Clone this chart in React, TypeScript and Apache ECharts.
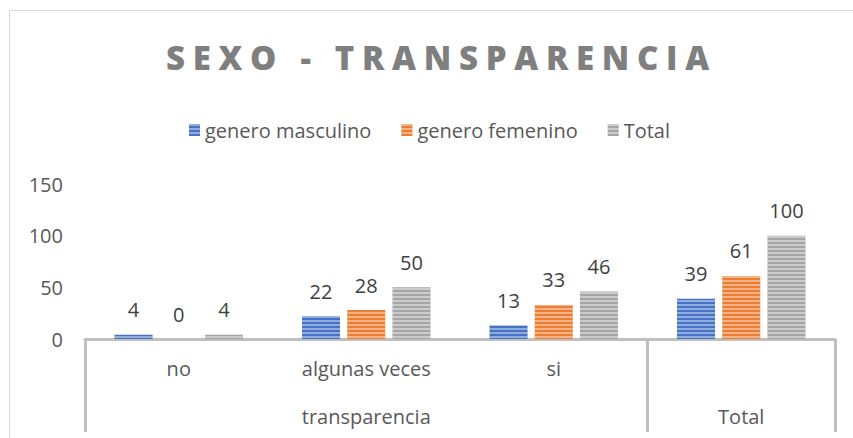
import React, { useEffect, useRef } from "react";
import * as echarts from "echarts";

const TITLE = "SEXO - TRANSPARENCIA";
const categories = ["no", "algunas veces", "si", "Total"];
const subLabels = ["no", "algunas veces", "si", ""];
const groupLabels = ["", "transparencia", "", "Total"];
const seriesNames = ["genero masculino", "genero femenino", "Total"];
const masculino = [4, 22, 13, 39];
const femenino = [0, 28, 33, 61];
const total = [4, 50, 46, 100];
const colors = ["#4472c4", "#ed7d31", "#a5a5a5"];

const FONT = "'Open Sans', sans-serif";

export default function App() {
  const ref = useRef<HTMLDivElement>(null);
  useEffect(() => {
    if (!ref.current) return;
    const chart = echarts.init(ref.current, null, { renderer: "svg" });
    const decal = {
      symbol: "rect",
      symbolSize: 1,
      color: "rgba(255,255,255,0.42)",
      dashArrayX: [1, 0],
      dashArrayY: [2, 2],
      rotation: 0,
    };
    const mk = (name: string, data: number[], color: string) => ({
      name,
      type: "bar",
      data,
      barWidth: 38,
      barGap: "19%",
      itemStyle: { color, decal },
      label: {
        show: true,
        position: "top",
        distance: 15,
        color: "#404040",
        fontSize: 20,
        fontFamily: FONT,
      },
    });
    const option: any = {
      animation: false,
      title: {
        text: TITLE,
        left: 161,
        top: 36,
        textStyle: {
          fontFamily: FONT,
          fontWeight: 800,
          fontSize: 33,
          color: "#7f7f7f",
        },
      },
      legend: {
        left: 189,
        top: 120,
        padding: 0,
        itemWidth: 11,
        itemHeight: 12,
        itemGap: 30,
        icon: "rect",
        data: seriesNames,
        textStyle: { fontSize: 20, color: "#595959", fontFamily: FONT },
      },
      grid: { left: 85, right: 18, top: 184, bottom: 99, containLabel: false },
      xAxis: [
        {
          type: "category",
          data: categories,
          position: "bottom",
          axisLine: { show: true, lineStyle: { color: "#c0c0c0", width: 3 } },
          axisTick: { show: false },
          axisLabel: {
            interval: 0,
            margin: 19,
            fontSize: 20,
            color: "#595959",
            fontFamily: FONT,
            formatter: (_v: string, i: number) => subLabels[i],
          },
        },
        {
          type: "category",
          data: groupLabels,
          position: "bottom",
          offset: 0,
          axisLine: { show: false },
          axisTick: {
            show: true,
            length: 93,
            interval: (i: number) => i === 0 || i === 3,
            lineStyle: { color: "#c0c0c0", width: 3 },
          },
          axisLabel: {
            interval: 0,
            margin: 67,
            fontSize: 20,
            color: "#595959",
            fontFamily: FONT,
          },
        },
      ],
      yAxis: {
        type: "value",
        min: 0,
        max: 150,
        interval: 50,
        axisLine: { show: false },
        axisTick: { show: false },
        splitLine: { show: false },
        axisLabel: {
          margin: 22,
          fontSize: 20,
          color: "#595959",
          fontFamily: FONT,
        },
      },
      graphic: [
        {
          type: "rect",
          shape: { x: 9.5, y: 10.5, width: 900, height: 500 },
          style: { fill: "none", stroke: "#d9d9d9", lineWidth: 1 },
          silent: true,
          z: -10,
        },
      ],
      series: [
        mk(seriesNames[0], masculino, colors[0]),
        mk(seriesNames[1], femenino, colors[1]),
        mk(seriesNames[2], total, colors[2]),
      ],
    };
    const applySpacing = () => {
      const el = ref.current;
      if (!el) return;
      el.querySelectorAll("text").forEach((t) => {
        if (t.textContent === TITLE) t.setAttribute("letter-spacing", "7.7");
      });
    };
    chart.on("finished", applySpacing);
    chart.setOption(option);
    applySpacing();
    return () => chart.dispose();
  }, []);
  return (
    <div
      ref={ref}
      style={{ position: "fixed", left: 0, top: 0, width: 853, height: 438, background: "#fff" }}
    />
  );
}
